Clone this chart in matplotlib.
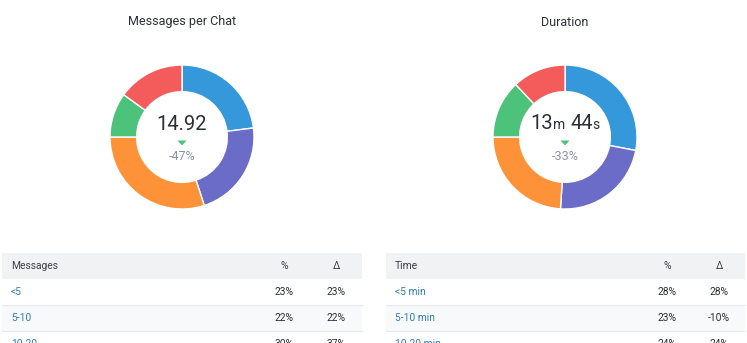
import matplotlib
matplotlib.use("Agg")
import matplotlib.pyplot as plt
from matplotlib.patches import Rectangle, Polygon

plt.rcParams['font.family'] = ['Roboto', 'DejaVu Sans']

W, H = 747, 343

# ---- data ----
msg_title = "Messages per Chat"
msg_shares = [23, 22, 30, 10, 15]
msg_center = "14.92"
msg_delta = "-47%"
msg_rows = ["<5", "5-10", "10-20"]
msg_pct = ["23%", "22%", "30%"]
msg_change = ["23%", "22%", "37%"]

dur_title = "Duration"
dur_shares = [28, 23, 24, 13, 12]
dur_parts = [("13", 14.5), ("m", 10), (" ", 10), ("44", 14.5), ("s", 10)]
dur_delta = "-33%"
dur_rows = ["<5 min", "5-10 min", "10-20 min"]
dur_pct = ["28%", "23%", "24%"]
dur_change = ["28%", "-10%", "24%"]

colors = ['#3498db', '#6a6cc7', '#fe9238', '#4cc27b', '#f45c5c']

fig = plt.figure(figsize=(W / 100, H / 100), dpi=100)
fig.patch.set_facecolor('white')

bg = fig.add_axes([0, 0, 1, 1])
bg.set_xlim(0, W)
bg.set_ylim(H, 0)
bg.axis('off')


def donut(cx, cy, R, shares):
    ax = fig.add_axes([(cx - R) / W, (H - cy - R) / H, 2 * R / W, 2 * R / H])
    ax.pie(shares, colors=colors, startangle=90, counterclock=False, radius=1,
           wedgeprops=dict(width=0.37, edgecolor='white', linewidth=1))
    ax.set_xlim(-1, 1)
    ax.set_ylim(-1, 1)
    ax.set_aspect('equal')
    ax.axis('off')


R = 72
donut(182, 137, R, msg_shares)
donut(565, 137, R, dur_shares)

title_kw = dict(fontsize=9, color='#2b2f36', ha='center', va='center')
bg.text(182, 22, msg_title, **title_kw)
bg.text(565, 22, dur_title, **title_kw)

# center texts
bg.text(182, 124, msg_center, fontsize=14.5, color='#2b2f36', ha='center', va='center')

renderer = fig.canvas.get_renderer()
txts = []
for s, fs in dur_parts:
    t = bg.text(0, 129, s.replace(" ", "\u00a0") if s == " " else s, fontsize=fs,
                color='#2b2f36', ha='left', va='baseline')
    txts.append(t)
widths = []
for (s, fs), t in zip(dur_parts, txts):
    if s == " ":
        widths.append(5.0)
    else:
        widths.append(t.get_window_extent(renderer).width)
total = sum(widths)
x = 565 - total / 2
for t, w in zip(txts, widths):
    t.set_x(x)
    x += w

for cx, d in [(182, msg_delta), (565, dur_delta)]:
    bg.add_patch(Polygon([[cx - 4.5, 140.5], [cx + 4.5, 140.5], [cx, 145.5]],
                         closed=True, color='#4cc27b', lw=0))
    bg.text(cx, 157, d, fontsize=9, color='#8a94a6', ha='center', va='center')


def table(x0, x1, head, rows, pct, chg, pct_x, chg_x):
    fs = 7.4
    bg.add_patch(Rectangle((x0, 253), x1 - x0, 26, color='#f1f2f4', lw=0))
    bg.text(x0 + 9, 266, head, fontsize=fs, color='#3a3f47', ha='left', va='center')
    bg.text(pct_x, 266, "%", fontsize=fs, color='#3a3f47', ha='center', va='center')
    bg.text(chg_x, 266, "Δ", fontsize=fs, color='#3a3f47', ha='center', va='center')
    for i, (r, p, c) in enumerate(zip(rows, pct, chg)):
        top = 279 + i * 26
        if i % 2 == 1:
            bg.add_patch(Rectangle((x0, top), x1 - x0, 26, color='#f8f9fa', lw=0))
        bg.plot([x0, x1], [top + 26, top + 26], color='#e8eaed', lw=0.8)
        yc = top + 13
        bg.text(x0 + 9, yc, r, fontsize=fs, color='#2f7bbf', ha='left', va='center')
        bg.text(pct_x, yc, p, fontsize=fs, color='#2b2f36', ha='center', va='center')
        bg.text(chg_x, yc, c, fontsize=fs, color='#2b2f36', ha='center', va='center')


table(2, 362, "Messages", msg_rows, msg_pct, msg_change, 284, 336)
table(386, 745, "Time", dur_rows, dur_pct, dur_change, 667, 719)

fig.savefig("out.png", dpi=100, facecolor='white')
